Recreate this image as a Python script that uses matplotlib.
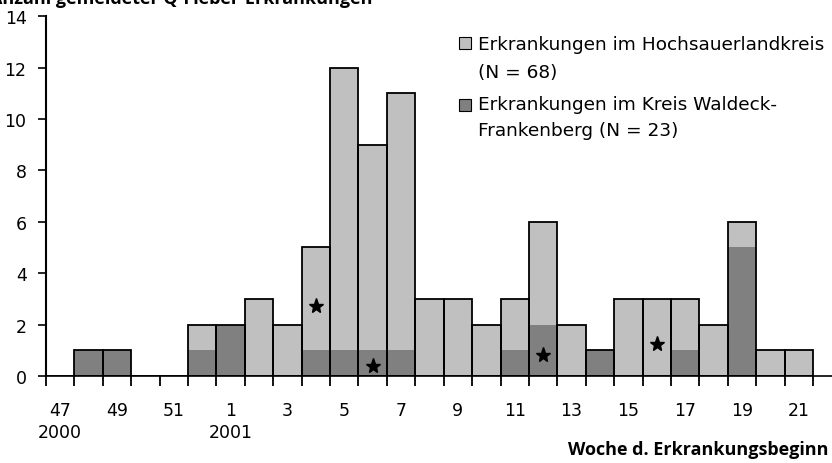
import matplotlib.pyplot as plt
from matplotlib.patches import Rectangle
import numpy as np

plt.rcParams['font.family'] = ['DejaVu Sans']

# Meldewoche (2000: 47-52, 2001: 1-21)
wochen = [47, 48, 49, 50, 51, 52] + list(range(1, 22))
waldeck = [0, 1, 1, 0, 0, 1, 2, 0, 0, 1, 1, 1, 1, 0, 0, 0, 1, 2, 0, 1, 0, 0, 1, 0, 5, 0, 0]
hochsauerland = [0, 0, 0, 0, 0, 1, 0, 3, 2, 4, 11, 8, 10, 3, 3, 2, 2, 4, 2, 0, 3, 3, 2, 2, 1, 1, 1]
# Sternchen (Wochen und Hoehe)
stern_wochen = [4, 6, 12, 16]
stern_y = [2.72, 0.4, 0.8, 1.25]

hell = '#c0c0c0'
dunkel = '#808080'

x = np.arange(len(wochen))

fig = plt.figure(figsize=(8.32, 4.64), dpi=100)
ax = fig.add_axes([0.0553, 0.1875, 0.9447, 0.7755])

ax.bar(x, waldeck, width=1.0, color=dunkel, edgecolor='none')
ax.bar(x, hochsauerland, width=1.0, bottom=waldeck, color=hell, edgecolor='none')
total = np.array(waldeck) + np.array(hochsauerland)
ax.bar(x, total, width=1.0, color='none', edgecolor='black', linewidth=1.3)

sx = [wochen.index(w, 6) for w in stern_wochen]
ax.plot(sx, stern_y, linestyle='none', marker='*', color='black', markersize=11)

ax.set_xlim(-0.5, 27.17)
ax.set_ylim(0, 14)
ax.set_yticks(range(0, 15, 2))
ax.tick_params(axis='y', length=6, width=1.2, pad=8, labelsize=12.5)

labels = []
pos = []
for i, w in enumerate(wochen):
    if w % 2 == 1:
        pos.append(i)
        if w == 47:
            labels.append('47\n2000')
        elif w == 1:
            labels.append('1\n2001')
        else:
            labels.append(str(w))
ax.set_xticks(pos)
ax.set_xticklabels(labels, linespacing=1.3)
ax.set_xticks(np.arange(-0.5, 27, 1), minor=True)
ax.tick_params(axis='x', which='major', length=0, pad=18, labelsize=12.5)
ax.tick_params(axis='x', which='minor', length=7, width=1.3, direction='out')

ax.spines['top'].set_visible(False)
ax.spines['right'].set_visible(False)
ax.spines['left'].set_linewidth(1.5)
ax.spines['bottom'].set_linewidth(1.2)

# Legende von Hand
H = 464.0
W = 832.0
eintraege = [
    (hell, ['Erkrankungen im Hochsauerlandkreis', '(N = 68)'], 38, [50, 78]),
    (dunkel, ['Erkrankungen im Kreis Waldeck-', 'Frankenberg (N = 23)'], 100, [110, 136]),
]
for farbe, zeilen, ytop, basen in eintraege:
    fig.patches.append(Rectangle((459 / W, 1 - (ytop + 12) / H), 12 / W, 12 / H,
                                 transform=fig.transFigure, facecolor=farbe,
                                 edgecolor='black', linewidth=0.8))
    for zeile, b in zip(zeilen, basen):
        fig.text(478 / W, 1 - b / H, zeile, fontsize=13.3, va='baseline', ha='left')

fig.text(-0.012, 1 - 4 / H, 'Anzahl gemeldeter Q-Fieber-Erkrankungen',
         fontsize=13, fontweight='bold', va='baseline', ha='left', family='Open Sans')
fig.text(0.996, 1 - 455 / H, 'Woche d. Erkrankungsbeginn',
         fontsize=13, fontweight='bold', va='baseline', ha='right', family='Open Sans')

fig.savefig('out.png', dpi=100)
